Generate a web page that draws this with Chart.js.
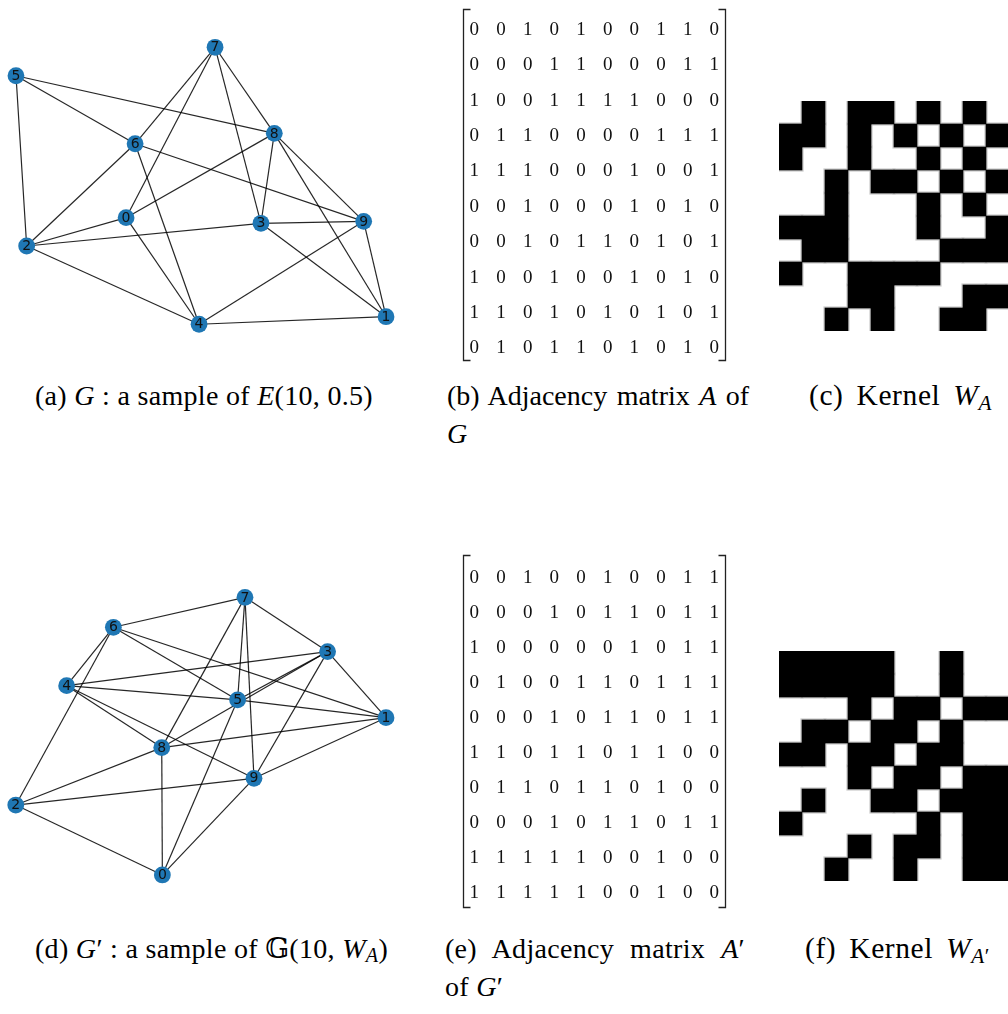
<!DOCTYPE html>
<html>
<head>
<meta charset="utf-8">
<script src="https://cdn.jsdelivr.net/npm/chart.js@4.4.0/dist/chart.umd.min.js"></script>
<style>
  html, body { margin: 0; padding: 0; background: #fff; overflow: hidden; }
  body { width: 1008px; height: 1014px; position: relative; }
  canvas { position: absolute; display: block; }
  .cap {
    position: absolute;
    font-family: "Liberation Serif", "DejaVu Serif", "DejaVu Sans", serif;
    font-size: 28px; line-height: 28px; letter-spacing: 0.3px;
    color: #000; white-space: nowrap;
  }
  .just { text-align: justify; text-align-last: justify; }
  .kern { font-size: 29.5px; letter-spacing: 0.6px; word-spacing: 5px; }
  .cap sub { font-size: 0.72em; vertical-align: -0.22em; line-height: 0; }
</style>
</head>
<body>

<canvas id="g1" width="410" height="320" style="left:0;top:30px"></canvas>
<canvas id="m1" width="300" height="370" style="left:440px;top:0"></canvas>
<canvas id="k1" width="230" height="230" style="left:779px;top:101px"></canvas>

<canvas id="g2" width="410" height="320" style="left:0;top:570px"></canvas>
<canvas id="m2" width="300" height="360" style="left:440px;top:550px"></canvas>
<canvas id="k2" width="230" height="230" style="left:779px;top:651px"></canvas>

<div class="cap" style="left:35px;top:382px">(a) <i>G</i> : a sample of <i>E</i>(10, 0.5)</div>
<div class="cap just" style="left:447px;top:382px;width:302px;letter-spacing:0">(b) Adjacency matrix <i>A</i> of</div>
<div class="cap" style="left:447px;top:420px"><i>G</i></div>
<div class="cap kern" style="left:809px;top:381px">(c) Kernel <i>W</i><sub><i>A</i></sub></div>

<div class="cap" style="left:35px;top:935px">(d) <i>G</i>′ : a sample of 𝔾(10, <i>W</i><sub><i>A</i></sub>)</div>
<div class="cap just" style="left:445px;top:935px;width:300px">(e) Adjacency matrix <i>A</i>′</div>
<div class="cap" style="left:445px;top:973px">of <i>G</i>′</div>
<div class="cap kern" style="left:805px;top:934px">(f) Kernel <i>W</i><sub><i>A</i>′</sub></div>

<script>
// node layout of G (sample of E(10, 0.5))
const g1X = [-0.385, 0.883, -0.870, 0.273, -0.029, -0.922, -0.341, 0.049, 0.338, 0.774];
const g1Y = [-0.173, -0.792, -0.350, -0.208, -0.839, 0.714, 0.289, 0.892, 0.354, -0.196];

// node layout of G' (sample of G(10, W_A))
const g2X = [-0.208, 0.883, -0.923, 0.598, -0.675, 0.159, -0.447, 0.195, -0.211, 0.239];
const g2Y = [-0.906, 0.077, -0.469, 0.490, 0.277, 0.188, 0.642, 0.829, -0.110, -0.302];

// adjacency matrix A of G
const adjA = [
  [0, 0, 1, 0, 1, 0, 0, 1, 1, 0],
  [0, 0, 0, 1, 1, 0, 0, 0, 1, 1],
  [1, 0, 0, 1, 1, 1, 1, 0, 0, 0],
  [0, 1, 1, 0, 0, 0, 0, 1, 1, 1],
  [1, 1, 1, 0, 0, 0, 1, 0, 0, 1],
  [0, 0, 1, 0, 0, 0, 1, 0, 1, 0],
  [0, 0, 1, 0, 1, 1, 0, 1, 0, 1],
  [1, 0, 0, 1, 0, 0, 1, 0, 1, 0],
  [1, 1, 0, 1, 0, 1, 0, 1, 0, 1],
  [0, 1, 0, 1, 1, 0, 1, 0, 1, 0]
];

// adjacency matrix A' of G'
const adjA2 = [
  [0, 0, 1, 0, 0, 1, 0, 0, 1, 1],
  [0, 0, 0, 1, 0, 1, 1, 0, 1, 1],
  [1, 0, 0, 0, 0, 0, 1, 0, 1, 1],
  [0, 1, 0, 0, 1, 1, 0, 1, 1, 1],
  [0, 0, 0, 1, 0, 1, 1, 0, 1, 1],
  [1, 1, 0, 1, 1, 0, 1, 1, 0, 0],
  [0, 1, 1, 0, 1, 1, 0, 1, 0, 0],
  [0, 0, 0, 1, 0, 1, 1, 0, 1, 1],
  [1, 1, 1, 1, 1, 0, 0, 1, 0, 0],
  [1, 1, 1, 1, 1, 0, 0, 1, 0, 0]
];

const nodeIds = ['0', '1', '2', '3', '4', '5', '6', '7', '8', '9'];

Chart.defaults.animation = false;
Chart.defaults.devicePixelRatio = 1;

// writes the node number on each circle
const nodeLabels = {
  id: 'nodeLabels',
  afterDatasetsDraw(chart) {
    const ctx = chart.ctx;
    const meta = chart.getDatasetMeta(0);
    ctx.save();
    ctx.font = '14px "DejaVu Sans"';
    ctx.fillStyle = '#111';
    ctx.textAlign = 'center';
    ctx.textBaseline = 'middle';
    meta.data.forEach((pt, i) => ctx.fillText(nodeIds[i], pt.x, pt.y + 0.5));
    ctx.restore();
  }
};

// writes the matrix entries and the square brackets
const matrixText = {
  id: 'matrixText',
  afterDatasetsDraw(chart, args, opts) {
    const ctx = chart.ctx;
    const meta = chart.getDatasetMeta(0);
    const cells = chart.data.datasets[0].data;
    ctx.save();
    ctx.font = '19px "Liberation Serif"';
    ctx.fillStyle = '#111';
    ctx.textAlign = 'center';
    ctx.textBaseline = 'alphabetic';
    meta.data.forEach((pt, k) => ctx.fillText(String(cells[k].v), pt.x, pt.y + 6.5));

    const xs = chart.scales.x, ys = chart.scales.y;
    const l = Math.round(xs.getPixelForValue(opts.left)) + 0.5;
    const r = Math.round(xs.getPixelForValue(opts.right)) + 0.5;
    const t = Math.round(ys.getPixelForValue(opts.top)) + 0.5;
    const b = Math.round(ys.getPixelForValue(opts.bottom)) + 0.5;
    ctx.strokeStyle = '#222';
    ctx.lineWidth = 1.3;
    ctx.beginPath();
    ctx.moveTo(l + 7, t); ctx.lineTo(l, t); ctx.lineTo(l, b); ctx.lineTo(l + 7, b);
    ctx.moveTo(r - 7, t); ctx.lineTo(r, t); ctx.lineTo(r, b); ctx.lineTo(r - 7, b);
    ctx.stroke();
    ctx.restore();
  }
};

function graphChart(id, xs, ys, adj) {
  const nodes = xs.map((x, i) => ({ x: x, y: ys[i] }));
  const datasets = [{
    data: nodes,
    order: 0,
    showLine: false,
    pointRadius: 8.4,
    pointHoverRadius: 8.4,
    pointBackgroundColor: '#1f77b4',
    pointBorderWidth: 0,
    clip: false
  }];
  for (let i = 0; i < adj.length; i++) {
    for (let j = i + 1; j < adj.length; j++) {
      if (adj[i][j]) {
        datasets.push({
          data: [nodes[i], nodes[j]],
          order: 1,
          showLine: true,
          borderColor: 'rgba(0,0,0,0.85)',
          borderWidth: 1.2,
          pointRadius: 0,
          pointHoverRadius: 0,
          clip: false
        });
      }
    }
  }
  new Chart(document.getElementById(id), {
    type: 'scatter',
    data: { datasets: datasets },
    options: {
      responsive: false,
      events: [],
      layout: { padding: 0, autoPadding: false },
      scales: {
        x: { type: 'linear', min: -1, max: 1, display: false },
        y: { type: 'linear', min: -1, max: 1, display: false }
      },
      plugins: { legend: { display: false }, tooltip: { enabled: false } }
    },
    plugins: [nodeLabels]
  });
}

function matrixChart(id, adj, yMin, yMax, brTop, brBottom) {
  const cells = [];
  adj.forEach((row, r) => row.forEach((v, c) => cells.push({ x: c, y: r, v: v })));
  new Chart(document.getElementById(id), {
    type: 'scatter',
    data: { datasets: [{ data: cells, pointRadius: 0, pointHoverRadius: 0 }] },
    options: {
      responsive: false,
      events: [],
      layout: { padding: 0, autoPadding: false },
      scales: {
        x: { type: 'linear', min: -1.286, max: 9.964, display: false },
        y: { type: 'linear', min: yMin, max: yMax, reverse: true, display: false }
      },
      plugins: {
        legend: { display: false },
        tooltip: { enabled: false },
        matrixText: { left: -0.42, right: 9.40, top: brTop, bottom: brBottom }
      }
    },
    plugins: [matrixText]
  });
}

// kernel image: row i of the matrix fills the band [i, i+1], origin at the bottom;
// a light grey halo under each cell mimics the resampling fringe of the picture
function kernelChart(id, adj) {
  const cellsets = adj.map((row, i) => ({
    data: row.map(v => (v ? [i, i + 1] : null)),
    order: 0,
    backgroundColor: '#000',
    borderWidth: 0,
    barPercentage: 1,
    categoryPercentage: 1,
    grouped: false
  }));
  const halosets = adj.map((row, i) => ({
    data: row.map(v => (v ? [i - 0.07, i + 1.07] : null)),
    order: 1,
    backgroundColor: '#cacaca',
    borderWidth: 0,
    barPercentage: 1.14,
    categoryPercentage: 1,
    grouped: false
  }));
  new Chart(document.getElementById(id), {
    type: 'bar',
    data: { labels: nodeIds, datasets: cellsets.concat(halosets) },
    options: {
      responsive: false,
      events: [],
      layout: { padding: 0, autoPadding: false },
      scales: {
        x: { display: false },
        y: { min: 0, max: 10, display: false }
      },
      plugins: { legend: { display: false }, tooltip: { enabled: false } }
    }
  });
}

graphChart('g1', g1X, g1Y, adjA);
graphChart('g2', g2X, g2Y, adjA2);
matrixChart('m1', adjA, -0.8, 9.652, -0.55, 9.37);
matrixChart('m2', adjA2, -0.763, 9.523, -0.62, 9.44);
kernelChart('k1', adjA);
kernelChart('k2', adjA2);
</script>
</body>
</html>
